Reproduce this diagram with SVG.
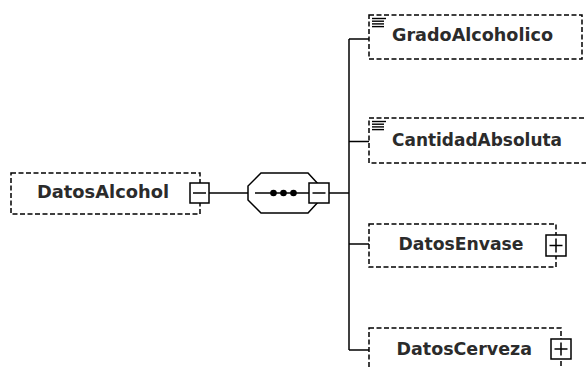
<svg xmlns="http://www.w3.org/2000/svg" width="586" height="367" viewBox="0 0 586 367">
<style>
.box{fill:#fff;stroke:#000;stroke-width:1.5;stroke-dasharray:5,2.5}
.btn{fill:#fff;stroke:#000;stroke-width:1.5}
.sign{stroke:#000;stroke-width:1.5;fill:none}
.conn{stroke:#000;stroke-width:1.5;fill:none}
.lbl{font-family:"DejaVu Sans",Verdana,sans-serif;font-weight:bold;font-size:17px;fill:#2b2b2b}
.icon{stroke:#000;stroke-width:1.4}
</style>
<rect width="586" height="367" fill="#fff"/>
<g id="connectors">
<line class="conn" x1="209" y1="193" x2="248" y2="193"/>
<line class="conn" x1="329" y1="193" x2="349" y2="193"/>
<line class="conn" x1="349" y1="39" x2="349" y2="350"/>
<line class="conn" x1="349" y1="39" x2="369" y2="39"/>
<line class="conn" x1="349" y1="141.5" x2="369" y2="141.5"/>
<line class="conn" x1="349" y1="244" x2="369" y2="244"/>
<line class="conn" x1="349" y1="350" x2="369" y2="350"/>
</g>
<g id="DatosAlcohol">
<rect class="box" x="11" y="173" width="189" height="41"/>
<text class="lbl" x="37" y="197.5" textLength="132" lengthAdjust="spacingAndGlyphs">DatosAlcohol</text>
<rect class="btn" x="190" y="183" width="19" height="20"/>
<line class="sign" x1="193" y1="193" x2="206" y2="193"/>
</g>
<g id="sequence">
<polygon points="261,173 308,173 320,186 320,200 308,213 261,213 248,200 248,186" fill="#fff" stroke="#000" stroke-width="1.5"/>
<line class="conn" x1="255" y1="193" x2="309" y2="193"/>
<circle cx="273.5" cy="193" r="3.3"/>
<circle cx="283.5" cy="193" r="3.3"/>
<circle cx="293.5" cy="193" r="3.3"/>
<rect class="btn" x="309" y="183" width="20" height="20"/>
<line class="sign" x1="312.5" y1="193" x2="325.5" y2="193"/>
</g>
<g id="GradoAlcoholico">
<rect class="box" x="369" y="15" width="213" height="44"/>
<g class="icon">
<line x1="372" y1="18.5" x2="386" y2="18.5"/>
<line x1="372" y1="21.2" x2="384" y2="21.2"/>
<line x1="372" y1="23.9" x2="384" y2="23.9"/>
<line x1="372" y1="26.6" x2="384" y2="26.6"/>
</g>
<text class="lbl" x="392" y="40.5" textLength="161" lengthAdjust="spacingAndGlyphs">GradoAlcoholico</text>
</g>
<g id="CantidadAbsoluta">
<rect class="box" x="369" y="118" width="225" height="45"/>
<g class="icon">
<line x1="372" y1="121.5" x2="386" y2="121.5"/>
<line x1="372" y1="124.2" x2="384" y2="124.2"/>
<line x1="372" y1="126.9" x2="384" y2="126.9"/>
<line x1="372" y1="129.6" x2="384" y2="129.6"/>
</g>
<text class="lbl" x="392" y="145.5" textLength="170" lengthAdjust="spacingAndGlyphs">CantidadAbsoluta</text>
</g>
<g id="DatosEnvase">
<rect class="box" x="369" y="224" width="187" height="43"/>
<text class="lbl" x="398.5" y="250" textLength="125" lengthAdjust="spacingAndGlyphs">DatosEnvase</text>
<rect class="btn" x="546" y="235" width="20" height="21"/>
<line class="sign" x1="549.5" y1="245.5" x2="562.5" y2="245.5"/>
<line class="sign" x1="556" y1="238.5" x2="556" y2="252.5"/>
</g>
<g id="DatosCerveza">
<rect class="box" x="369" y="328" width="192" height="45"/>
<text class="lbl" x="396.5" y="355" textLength="135.5" lengthAdjust="spacingAndGlyphs">DatosCerveza</text>
<rect class="btn" x="551" y="339" width="20" height="20"/>
<line class="sign" x1="554.5" y1="349" x2="567.5" y2="349"/>
<line class="sign" x1="561" y1="342.5" x2="561" y2="355.5"/>
</g>
</svg>
